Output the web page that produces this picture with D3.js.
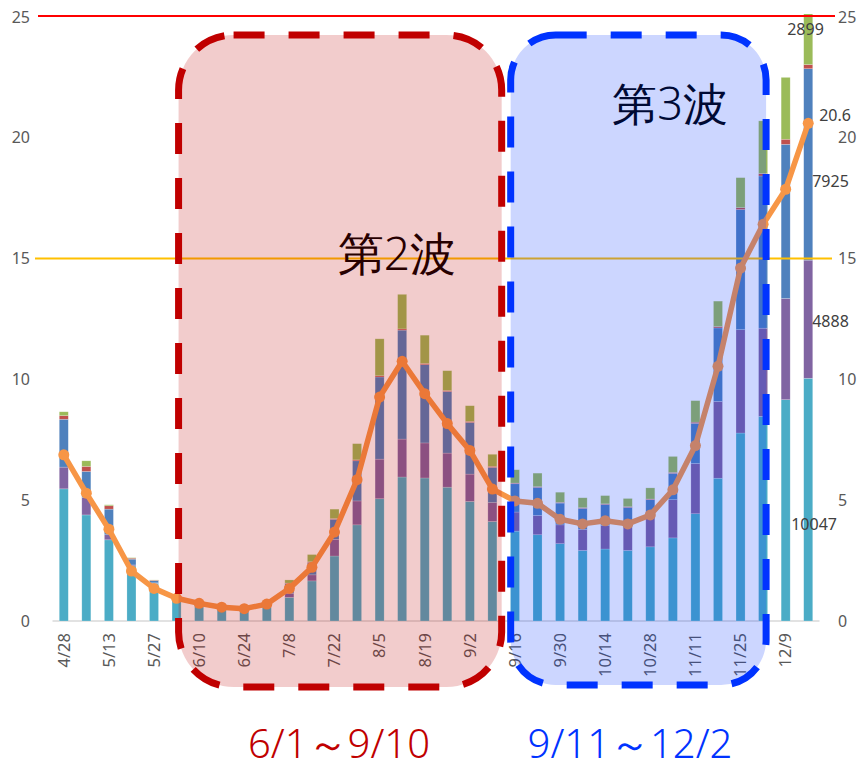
<!DOCTYPE html>
<html>
<head>
<meta charset="utf-8">
<script src="https://cdn.jsdelivr.net/npm/d3@7/dist/d3.min.js"></script>
<style>
  body { margin: 0; background: #fff; }
  text { font-family: "Noto Sans", "DejaVu Sans", sans-serif; }
</style>
</head>
<body>
<svg id="chart" width="857" height="769"></svg>
<script>
// Weekly categories (every other one is labelled on the axis)
const weeks = ["4/28","5/6","5/13","5/20","5/27","6/3","6/10","6/17","6/24","7/1",
  "7/8","7/15","7/22","7/29","8/5","8/12","8/19","8/26","9/2","9/9",
  "9/16","9/23","9/30","10/7","10/14","10/21","10/28","11/4","11/11","11/18",
  "11/25","12/2","12/9","12/16"];

// Stacked weekly counts (thousands), bottom to top
const groupA = [5.47,4.39,3.36,2.28,1.56,0.85,0.70,0.55,0.50,0.62,
  0.98,1.66,2.69,3.98,5.06,5.96,5.92,5.54,4.95,4.12,
  3.72,3.57,3.20,2.92,2.98,2.92,3.07,3.44,4.44,5.91,
  7.78,8.47,9.16,10.047];
const groupB = [0.90,0.72,0.21,0.04,0.02,0.02,0.02,0.01,0.01,0.02,
  0.17,0.25,0.69,0.99,1.64,1.57,1.45,1.41,1.13,0.78,
  0.79,0.80,0.78,0.87,0.97,0.99,1.25,1.58,2.08,3.18,
  4.28,3.65,4.19,4.888];
const groupC = [1.98,1.08,1.06,0.24,0.09,0.04,0.03,0.02,0.02,0.03,
  0.40,0.51,0.83,1.66,3.40,4.51,3.24,2.55,2.14,1.46,
  1.17,1.16,0.90,0.87,0.87,0.79,0.70,1.09,1.66,3.04,
  4.97,6.30,6.38,7.925];
const groupD = [0.15,0.21,0.14,0.04,0.02,0.01,0.00,0.00,0.00,0.00,
  0.02,0.03,0.03,0.04,0.05,0.05,0.05,0.04,0.04,0.04,
  0.03,0.03,0.03,0.03,0.03,0.03,0.03,0.04,0.05,0.06,
  0.08,0.10,0.21,0.17];
const groupE = [0.16,0.23,0.04,0.02,0.01,0.01,0.01,0.01,0.01,0.02,
  0.13,0.30,0.39,0.67,1.53,1.43,1.17,0.82,0.65,0.50,
  0.55,0.56,0.42,0.41,0.34,0.34,0.46,0.66,0.89,1.05,
  1.24,2.18,2.56,2.899];

// Weekly rate (line series)
const rate = [6.88,5.29,3.80,2.07,1.35,0.94,0.73,0.57,0.51,0.70,
  1.35,2.22,3.68,5.85,9.27,10.75,9.41,8.17,7.06,5.46,
  4.97,4.87,4.21,4.02,4.15,4.02,4.39,5.43,7.26,10.54,
  14.61,16.42,17.87,20.6];

const yTicks = [0, 5, 10, 15, 20, 25];
const refLines = [{ value: 25, color: "#ff0000" }, { value: 15, color: "#ffc000" }];
const waves = [
  { title: "第2波", range: "6/1～9/10", from: 5, to: 19 },
  { title: "第3波", range: "9/11～12/2", from: 20, to: 31 }
];

const seriesKeys = ["groupA","groupB","groupC","groupD","groupE"];
const seriesColors = ["#4bacc6","#8064a2","#4f81bd","#c0504d","#9bbb59"];

const W = 857, H = 769;
const svg = d3.select("#chart");

const x = d3.scaleBand().domain(weeks).range([52.5, 819.5]).paddingInner(0.6).paddingOuter(0.3);
const y = d3.scaleLinear().domain([0, 25]).range([621, 17]);
const cx = i => x(weeks[i]) + x.bandwidth() / 2;

const rows = weeks.map((w, i) => ({
  week: w, groupA: groupA[i], groupB: groupB[i], groupC: groupC[i], groupD: groupD[i], groupE: groupE[i]
}));
const stacked = d3.stack().keys(seriesKeys)(rows);

// plot clip (tallest bar runs past the top of the value axis)
svg.append("defs").append("clipPath").attr("id", "plotClip")
  .append("rect").attr("x", 0).attr("y", y(25) - 3).attr("width", W).attr("height", H);

// horizontal axis line
svg.append("line")
  .attr("x1", x.range()[0]).attr("x2", x.range()[1])
  .attr("y1", y(0)).attr("y2", y(0))
  .attr("stroke", "#d9d9d9").attr("stroke-width", 1.5);

// stacked bars
const barG = svg.append("g").attr("clip-path", "url(#plotClip)");
barG.selectAll("g.layer").data(stacked).join("g")
  .attr("class", "layer")
  .attr("fill", (d, i) => seriesColors[i])
  .selectAll("rect").data(d => d).join("rect")
  .attr("x", d => x(d.data.week))
  .attr("width", x.bandwidth())
  .attr("y", d => y(d[1]))
  .attr("height", d => Math.max(0, y(d[0]) - y(d[1])))
  .attr("stroke", "rgba(255,255,255,0.35)")
  .attr("stroke-width", 0.6);

// reference line at 15 (sits under the wave panels)
svg.append("line")
  .attr("x1", 35).attr("x2", 832)
  .attr("y1", y(refLines[1].value)).attr("y2", y(refLines[1].value))
  .attr("stroke", refLines[1].color).attr("stroke-width", 2);

// rate line with markers
const lineGen = d3.line().x((d, i) => cx(i)).y(d => y(d));
svg.append("path").datum(rate)
  .attr("d", lineGen)
  .attr("fill", "none").attr("stroke", "#f79646").attr("stroke-width", 5.5)
  .attr("stroke-linejoin", "round");
svg.append("g").selectAll("circle").data(rate).join("circle")
  .attr("cx", (d, i) => cx(i)).attr("cy", d => y(d)).attr("r", 5.5)
  .attr("fill", "#f79646");

// x tick labels (every second week)
svg.append("g").selectAll("text")
  .data(weeks.map((w, i) => ({ w, i })).filter(d => d.i % 2 === 0))
  .join("text")
  .attr("transform", d => `translate(${cx(d.i)},${y(0) + 12}) rotate(-90)`)
  .attr("text-anchor", "end").attr("dy", "0.35em")
  .attr("font-size", 16.5).attr("fill", "#595959")
  .text(d => d.w);

// wave titles (drawn under the translucent panels)
const waveTitlePos = [{ x: 397, y: 252, size: 46 }, { x: 670, y: 102, size: 45 }];
waves.forEach((wv, k) => {
  svg.append("text")
    .attr("x", waveTitlePos[k].x).attr("y", waveTitlePos[k].y)
    .attr("text-anchor", "middle").attr("dominant-baseline", "central")
    .attr("font-family", "'Noto Sans CJK JP', sans-serif")
    .attr("font-weight", 300)
    .attr("font-size", waveTitlePos[k].size).attr("fill", "#000")
    .text(wv.title);
});

// rounded panels marking each wave
function roundRect(x0, y0, x1, y1, r) {
  const p = d3.path();
  p.moveTo(x0 + r, y0);
  p.lineTo(x1 - r, y0);
  p.arcTo(x1, y0, x1, y0 + r, r);
  p.lineTo(x1, y1 - r);
  p.arcTo(x1, y1, x1 - r, y1, r);
  p.lineTo(x0 + r, y1);
  p.arcTo(x0, y1, x0, y1 - r, r);
  p.lineTo(x0, y0 + r);
  p.arcTo(x0, y0, x0 + r, y0, r);
  p.closePath();
  return p.toString();
}
const gapMid = (cx(waves[0].to) + cx(waves[1].from)) / 2;
const panels = [
  { x0: cx(waves[0].from) + 2, x1: gapMid - 2, y0: 35, y1: 687, r: 55,
    fill: "rgba(192,0,0,0.2)", stroke: "#c00000" },
  { x0: gapMid + 7, x1: cx(waves[1].to) + 3, y0: 35, y1: 685, r: 45,
    fill: "rgba(0,51,255,0.2)", stroke: "#0033ff" }
];
panels.forEach(p => {
  svg.append("path")
    .attr("d", roundRect(p.x0, p.y0, p.x1, p.y1, p.r))
    .attr("fill", p.fill)
    .attr("stroke", p.stroke).attr("stroke-width", 7)
    .attr("stroke-dasharray", "31 24");
});

// reference line at 25
svg.append("line")
  .attr("x1", 38).attr("x2", 835)
  .attr("y1", y(refLines[0].value) - 1).attr("y2", y(refLines[0].value) - 1)
  .attr("stroke", refLines[0].color).attr("stroke-width", 2);

// value axes on both sides
svg.append("g").selectAll("text").data(yTicks).join("text")
  .attr("x", 30).attr("y", d => y(d)).attr("dy", "0.35em")
  .attr("text-anchor", "end").attr("font-size", 16).attr("fill", "#595959")
  .text(d => d);
svg.append("g").selectAll("text").data(yTicks).join("text")
  .attr("x", 838).attr("y", d => y(d)).attr("dy", "0.35em")
  .attr("text-anchor", "start").attr("font-size", 16).attr("fill", "#595959")
  .text(d => d);

// value labels on the latest week
const last = weeks.length - 1;
const labelShift = { groupA: [-17, 25], groupB: [4, 2], groupC: [4, 17], groupE: [-21, 0] };
stacked.forEach(layer => {
  const sh = labelShift[layer.key];
  if (!sh) return;
  const d = layer[last];
  svg.append("text")
    .attr("x", cx(last) + sh[0])
    .attr("y", y((d[0] + d[1]) / 2) + sh[1])
    .attr("dy", "0.35em").attr("font-size", 16).attr("fill", "#404040")
    .text(Math.round((d[1] - d[0]) * 1000));
});
svg.append("text")
  .attr("x", cx(last) + 11).attr("y", y(rate[last]) - 8)
  .attr("dy", "0.35em").attr("font-size", 16).attr("fill", "#404040")
  .text(d3.format(".1f")(rate[last]));

// period captions under the chart
const captionPos = [{ x: 339, color: "#c00000" }, { x: 630, color: "#0033ff" }];
waves.forEach((wv, k) => {
  svg.append("text")
    .attr("x", captionPos[k].x).attr("y", 758)
    .attr("text-anchor", "middle")
    .attr("font-family", "'Noto Sans CJK JP', sans-serif")
    .attr("font-weight", 300)
    .attr("font-size", 40).attr("fill", captionPos[k].color)
    .text(wv.range);
});
</script>
</body>
</html>
